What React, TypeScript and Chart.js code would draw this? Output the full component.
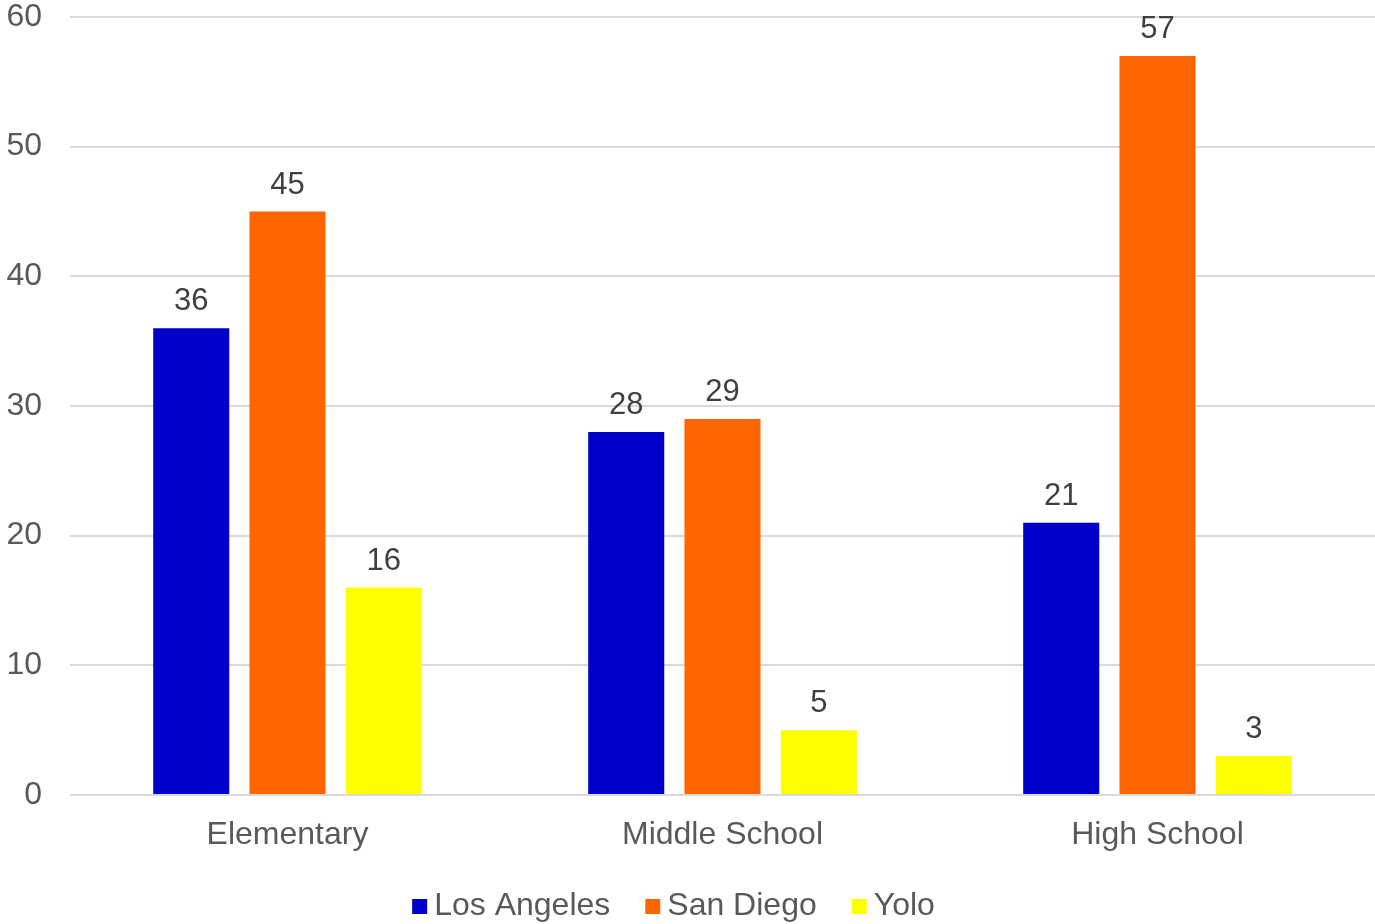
import React, { useEffect, useRef } from "react";
import { Chart, registerables } from "chart.js";

Chart.register(...registerables);

const categories = ["Elementary", "Middle School", "High School"];
const seriesNames = ["Los Angeles", "San Diego", "Yolo"];
const losAngeles = [36, 28, 21];
const sanDiego = [45, 29, 57];
const yolo = [16, 5, 3];
const seriesColors = ["#0000CC", "#FF6600", "#FFFF00"];
const yTicks = [0, 10, 20, 30, 40, 50, 60];

const FONT = "'Liberation Sans', Arial, Helvetica, sans-serif";

const dataLabelPlugin = {
  id: "dataLabels",
  afterDatasetsDraw(chart: any) {
    const ctx = chart.ctx;
    ctx.save();
    ctx.font = `31px ${FONT}`;
    ctx.fillStyle = "#404040";
    ctx.textAlign = "center";
    ctx.textBaseline = "alphabetic";
    chart.data.datasets.forEach((ds: any, i: number) => {
      const meta = chart.getDatasetMeta(i);
      meta.data.forEach((bar: any, j: number) => {
        ctx.fillText(String(ds.data[j]), bar.x, bar.y - 18);
      });
    });
    ctx.restore();
  },
};

const legendPlugin = {
  id: "customLegend",
  afterDraw(chart: any) {
    const ctx = chart.ctx;
    ctx.save();
    ctx.font = `32px ${FONT}`;
    const box = 15;
    const gapText = 7;
    const gapItem = 35;
    const items = chart.data.datasets.map((ds: any) => ({
      label: ds.label,
      color: ds.backgroundColor,
      w: ctx.measureText(ds.label).width,
    }));
    const total =
      items.reduce((s: number, it: any) => s + box + gapText + it.w, 0) +
      gapItem * (items.length - 1);
    let x = chart.width / 2 - 14 - total / 2;
    const baseline = chart.height - 9;
    items.forEach((it: any) => {
      ctx.fillStyle = it.color;
      ctx.fillRect(x, baseline - 16, box, box);
      ctx.fillStyle = "#595959";
      ctx.textAlign = "left";
      ctx.textBaseline = "alphabetic";
      ctx.fillText(it.label, x + box + gapText, baseline);
      x += box + gapText + it.w + gapItem;
    });
    ctx.restore();
  },
};

export default function App() {
  const ref = useRef<HTMLCanvasElement | null>(null);
  useEffect(() => {
    if (!ref.current) return;
    const seriesData = [losAngeles, sanDiego, yolo];
    const chart = new Chart(ref.current, {
      type: "bar",
      data: {
        labels: categories,
        datasets: seriesNames.map((name, i) => ({
          label: name,
          data: seriesData[i],
          backgroundColor: seriesColors[i],
          borderWidth: 0,
          categoryPercentage: 0.664,
          barPercentage: 0.79,
        })),
      },
      options: {
        animation: false,
        responsive: false,
        maintainAspectRatio: false,
        layout: { padding: { left: 0, right: 0, top: 17, bottom: 72 } },
        plugins: {
          legend: { display: false },
          tooltip: { enabled: false },
        },
        scales: {
          x: {
            grid: { display: false, drawTicks: false },
            border: { display: false },
            ticks: {
              color: "#595959",
              font: { family: FONT, size: 32 },
              padding: 21,
              maxRotation: 0,
            },
            afterFit(scale: any) {
              scale.height = 57;
              scale.paddingLeft = 0;
              scale.paddingRight = 0;
            },
          },
          y: {
            min: 0,
            max: 60,
            afterBuildTicks(scale: any) {
              scale.ticks = yTicks.map((v) => ({ value: v }));
            },
            grid: { color: "#D9D9D9", lineWidth: 2, drawTicks: false },
            border: { display: false },
            ticks: {
              color: "#595959",
              font: { family: FONT, size: 32 },
              padding: 28,
            },
            afterFit(scale: any) {
              scale.width = 70;
              scale.paddingTop = 0;
              scale.paddingBottom = 0;
            },
          },
        },
      },
      plugins: [dataLabelPlugin, legendPlugin],
    });
    return () => chart.destroy();
  }, []);
  return (
    <div style={{ position: "fixed", left: 0, top: 0, width: 1375, height: 924, background: "#fff" }}>
      <canvas ref={ref} width={1375} height={924} style={{ width: 1375, height: 924, display: "block" }} />
    </div>
  );
}
